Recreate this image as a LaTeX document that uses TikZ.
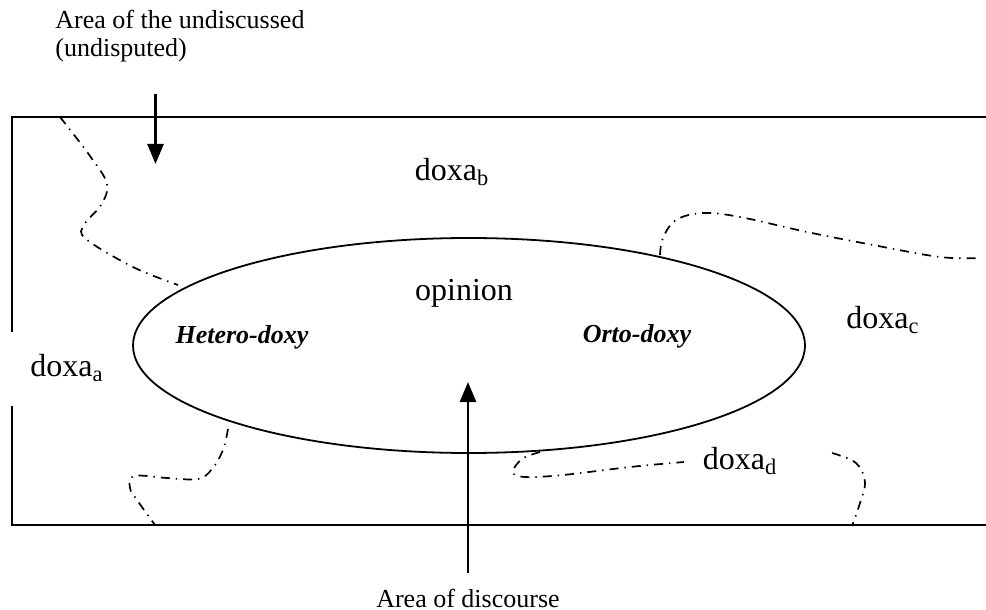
\documentclass[tikz,border=0pt]{standalone}
\usepackage{fontspec}
\setmainfont{Liberation Serif}
\usetikzlibrary{arrows.meta,shapes.geometric}
\tikzset{
  doxaline/.style={line width=0.85pt, dash pattern=on 4.5pt off 3pt on 0.7pt off 3pt},
  bigarrow/.style={line width=1.3pt, -{Triangle[width=8pt,length=10pt]}},
  biglabel/.style={font=\fontsize{16}{18}\selectfont, inner sep=0pt},
  smalllabel/.style={font=\fontsize{13}{14}\selectfont, inner sep=0pt},
}
\begin{document}
\begin{tikzpicture}[x=0.5pt,y=-0.5pt]
            \useasboundingbox (0,0) rectangle (986,610);
            % frame, open on the right, broken behind doxa_a
            \draw[line width=0.9pt] (986,117) -- (12,117) -- (12,332);
            \draw[line width=0.9pt] (12,406) -- (12,525) -- (986,525);
            % area of discourse
            \node[draw, ellipse, line width=0.9pt, minimum width=336pt, minimum height=107.5pt, inner sep=0pt] (discourse) at (469,345.5) {};
            % borders between the doxa regions
            \draw[doxaline] plot[smooth, tension=0.6] coordinates {(60,117) (90,156) (107,184) (101,205) (84,225) (86,239) (133,267) (178,285)};
            \draw[doxaline] plot[smooth, tension=0.6] coordinates {(660,255) (663,238) (676,220) (703,213) (740,217) (807,232) (873,245) (940,257) (980,258)};
            \draw[doxaline] plot[smooth, tension=0.6] coordinates {(228,429) (223,450) (212,469) (198,479) (167,478) (134,476) (130,488) (137,500) (155,525)};
            \draw[doxaline] plot[smooth, tension=0.6] coordinates {(540,452) (522,459) (513,472) (525,477) (563,475) (630,467) (684,462)};
            \draw[doxaline] plot[smooth, tension=0.6] coordinates {(832,453) (856,463) (865,482) (860,503) (852,526)};
            % labels
            \node[biglabel] (doxab) at (452,172) {doxa\textsubscript{b}};
            \node[biglabel] (opinion) at (464,293) {opinion};
            \node[biglabel] (doxac) at (883,320) {doxa\textsubscript{c}};
            \node[biglabel] (doxaa) at (67,368) {doxa\textsubscript{a}};
            \node[biglabel] (doxad) at (740,461) {doxa\textsubscript{d}};
            \node[smalllabel, font=\fontsize{13}{14}\selectfont\bfseries\itshape] (hetero) at (242,337) {Hetero-doxy};
            \node[smalllabel, font=\fontsize{13}{14}\selectfont\bfseries\itshape] (orto) at (637,336) {Orto-doxy};
            \node[smalllabel, align=left, anchor=west] (undiscussed) at (55,36) {Area of the undiscussed\\(undisputed)};
            \node[smalllabel] (arealabel) at (468,598) {Area of discourse};
            % arrows
            \coordinate (downtop) at (155.5,94);
            \coordinate (downtip) at (155.5,164);
            \coordinate (uptail) at (468,573);
            \coordinate (uptip) at (468,382);
            \draw[bigarrow] (downtop) -- (downtip);
            \draw[bigarrow] (uptail) -- (uptip);
        \end{tikzpicture}
\end{document}
